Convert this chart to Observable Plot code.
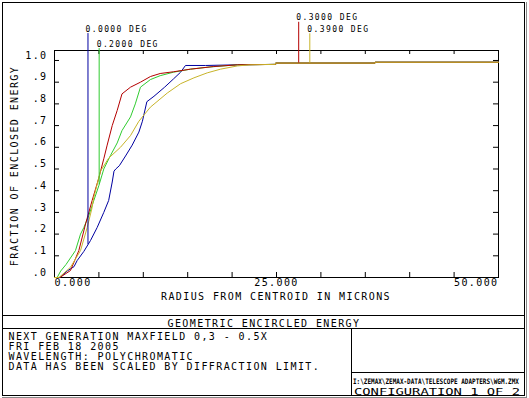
<!DOCTYPE html>
<html><head><meta charset="utf-8">
<script src="https://cdn.jsdelivr.net/npm/d3@7"></script>
<script src="https://cdn.jsdelivr.net/npm/@observablehq/plot@0.6"></script>
<style>
html,body{margin:0;padding:0;background:#fff;}
#chart svg{display:block;}
</style></head><body><div id="chart"></div>
<script>
// ---- data ----
const fieldLabels = ["0.0000 DEG", "0.2000 DEG", "0.3000 DEG", "0.3900 DEG"];
const fieldColors = ["#0000a0", "#30cc30", "#b40000", "#c8b42a"];
const labelRadius = [3.77, 5.03, 27.5, 28.75];
const labelTop = [1.124, 1.055, 1.176, 1.123];

const radiusBlue = [0, 0.6, 1.43, 2.2, 2.55, 3.3, 4.05, 4.8, 5.55, 6.1, 6.5, 6.7, 6.9, 7.3, 8.0, 8.75, 9.5, 9.9, 10.4, 11.2, 12.4, 13.4, 14.2, 14.75, 17, 20.6];
const eeBlue     = [0, 0, 0.03, 0.05, 0.078, 0.12, 0.17, 0.23, 0.30, 0.355, 0.44, 0.49, 0.50, 0.515, 0.56, 0.61, 0.67, 0.72, 0.81, 0.835, 0.877, 0.915, 0.946, 0.977, 0.977, 0.98];

const radiusGreen = [0, 0.3, 0.7, 1.3, 2.36, 2.93, 3.3, 3.86, 4.43, 5.0, 5.55, 6.3, 7.06, 7.6, 8.56, 9.1, 9.68, 10.8, 11.9, 13.4, 15.3, 17.5, 20.6];
const eeGreen     = [0, 0, 0.03, 0.06, 0.124, 0.2, 0.23, 0.285, 0.355, 0.424, 0.50, 0.562, 0.62, 0.677, 0.74, 0.80, 0.877, 0.912, 0.93, 0.946, 0.96, 0.97, 0.98];

const radiusRed = [0, 0.6, 1.8, 2.74, 3.5, 4.24, 5.0, 5.55, 5.93, 6.5, 7.06, 7.6, 8.56, 9.68, 10.8, 11.9, 13.4, 15.3, 17.9, 20.6];
const eeRed     = [0, 0, 0.032, 0.124, 0.247, 0.355, 0.46, 0.547, 0.61, 0.70, 0.77, 0.846, 0.877, 0.90, 0.926, 0.94, 0.948, 0.96, 0.972, 0.98];

const radiusYellow = [0, 0.5, 1.8, 2.93, 3.68, 4.2, 4.43, 5.18, 6.1, 7.43, 8.56, 9.5, 10.8, 12.7, 14.2, 15.7, 17.2, 18.7, 20.6, 22];
const eeYellow     = [0, 0, 0.047, 0.124, 0.23, 0.316, 0.37, 0.49, 0.55, 0.60, 0.654, 0.72, 0.785, 0.85, 0.893, 0.92, 0.943, 0.96, 0.975, 0.98];

const tailRadius = [24.9, 24.9, 36.1, 36.1, 50];
const tailEE     = [0.982, 0.988, 0.988, 0.992, 0.992];

const xTicks = [0, 5, 10, 15, 20, 25, 30, 35, 40, 45, 50];
const xTickValues = [0, 25, 50];
const xTickLabels = ["0.000", "25.000", "50.000"];
const yTicks = [0, 0.1, 0.2, 0.3, 0.4, 0.5, 0.6, 0.7, 0.8, 0.9, 1.0];
const yTickLabels = [".0", ".1", ".2", ".3", ".4", ".5", ".6", ".7", ".8", ".9", "1.0"];

const xTitle = "RADIUS FROM CENTROID IN MICRONS";
const yTitle = "FRACTION OF ENCLOSED ENERGY";
const plotTitle = "GEOMETRIC ENCIRCLED ENERGY";
const infoLines = ["NEXT GENERATION MAXFIELD 0,3 - 0.5X", "FRI FEB 18 2005", "WAVELENGTH: POLYCHROMATIC", "DATA HAS BEEN SCALED BY DIFFRACTION LIMIT."];
const filePath = "I:\\ZEMAX\\ZEMAX-DATA\\TELESCOPE ADAPTERS\\WGM.ZMX";
const configText = "CONFIGURATION 1 OF 2";

// ---- build table ----
const seriesR = [radiusBlue, radiusGreen, radiusRed, radiusYellow].map(a => a.concat(tailRadius));
const seriesE = [eeBlue, eeGreen, eeRed, eeYellow].map(a => a.concat(tailEE));
const rows = [];
seriesR.forEach((rs, i) => rs.forEach((r, j) => rows.push({field: fieldLabels[i], r, ee: seriesE[i][j]})));

function interp(rs, es, x) {
  for (let j = 1; j < rs.length; j++) {
    if (x <= rs[j]) {
      const t = rs[j] === rs[j-1] ? 1 : (x - rs[j-1]) / (rs[j] - rs[j-1]);
      return es[j-1] + t * (es[j] - es[j-1]);
    }
  }
  return es[es.length - 1];
}
const labels = fieldLabels.map((f, i) => ({
  field: f, r: labelRadius[i], top: labelTop[i], bottom: interp(seriesR[i], seriesE[i], labelRadius[i])
}));

const W = 529, H = 398;
const chart = Plot.plot({
  width: W, height: H,
  marginLeft: 54, marginRight: 31, marginTop: 50, marginBottom: 121,
  x: {domain: [0, 50], axis: null},
  y: {domain: [0, 1.046], axis: null},
  color: {domain: fieldLabels, range: fieldColors},
  style: {fontFamily: "'DejaVu Sans Mono', monospace", fontSize: "10px", letterSpacing: "1.4px", background: "#fff", color: "#000", overflow: "visible"},
  marks: [
    Plot.frame({stroke: "#000"}),
    Plot.tickY(yTicks, {y: d => d, insetRight: 439, stroke: "#000"}),
    Plot.tickY(yTicks, {y: d => d, insetLeft: 439, stroke: "#000"}),
    Plot.tickX(xTicks, {x: d => d, insetTop: 222, stroke: "#000"}),
    Plot.tickX(xTicks, {x: d => d, insetBottom: 223, stroke: "#000"}),
    Plot.text(yTicks, {y: d => d, frameAnchor: "left", text: (d, i) => yTickLabels[i], textAnchor: "end", dx: -7, dy: -5, fill: "#000"}),
    Plot.text([xTickValues[0]], {x: d => d, frameAnchor: "bottom", text: () => xTickLabels[0], textAnchor: "start", dy: 8, fill: "#000"}),
    Plot.text([xTickValues[1]], {x: d => d, frameAnchor: "bottom", text: () => xTickLabels[1], textAnchor: "middle", dy: 8, fill: "#000"}),
    Plot.text([xTickValues[2]], {x: d => d, frameAnchor: "bottom", text: () => xTickLabels[2], textAnchor: "end", dy: 8, fill: "#000"}),
    Plot.line(rows, {x: "r", y: "ee", z: "field", stroke: "field", strokeWidth: 1}),
    Plot.ruleX(labels, {x: "r", y1: "bottom", y2: "top", stroke: "field", strokeWidth: 1}),
    Plot.text(labels, {x: "r", y: "top", text: "field", textAnchor: "start", lineAnchor: "bottom", dx: -2.5, dy: -2, fontSize: 8, fill: "#000", style: "letter-spacing:1px"})
  ]
});
document.getElementById("chart").appendChild(chart);

// ---- page decorations (border boxes and titles) ----
const svg = d3.select(chart);
const g = svg.append("g").attr("fill", "none").attr("stroke", "#000");
g.append("rect").attr("x", 2.5).attr("y", 2.5).attr("width", 522).attr("height", 393);
g.append("line").attr("x1", 2.5).attr("x2", 524.5).attr("y1", 315.5).attr("y2", 315.5);
g.append("line").attr("x1", 2.5).attr("x2", 524.5).attr("y1", 328.5).attr("y2", 328.5);
g.append("line").attr("x1", 351.5).attr("x2", 351.5).attr("y1", 328.5).attr("y2", 395.5);
g.append("line").attr("x1", 351.5).attr("x2", 524.5).attr("y1", 372.5).attr("y2", 372.5);
g.append("line").attr("x1", 526.5).attr("x2", 526.5).attr("y1", 2).attr("y2", 397).attr("stroke", "#888");
g.append("line").attr("x1", 2).attr("x2", 527).attr("y1", 397.5).attr("y2", 397.5).attr("stroke", "#888");

const t = svg.append("g").attr("fill", "#000").attr("text-anchor", "start");
t.append("text").attr("x", 276).attr("y", 300).attr("text-anchor", "middle").text(xTitle);
t.append("text").attr("transform", "translate(18,166) rotate(-90)").attr("text-anchor", "middle").text(yTitle);
t.append("text").attr("x", 264).attr("y", 327).attr("text-anchor", "middle").text(plotTitle);
const base = [340, 349.7, 359.7, 369.7];
infoLines.forEach((s, i) => t.append("text").attr("x", 8.5).attr("y", base[i]).attr("text-anchor", "start").text(s));
t.append("text").attr("transform", "translate(353,383.5) scale(0.8,1)").attr("font-size", 7.5).attr("font-weight", "bold")
  .attr("text-anchor", "start").style("letter-spacing", "0px").text(filePath);
t.append("text").attr("x", 354).attr("y", 394.5).attr("font-size", 9).attr("text-anchor", "start").style("letter-spacing", "0px")
  .attr("textLength", 166).attr("lengthAdjust", "spacingAndGlyphs").text(configText);
</script>
</body></html>
